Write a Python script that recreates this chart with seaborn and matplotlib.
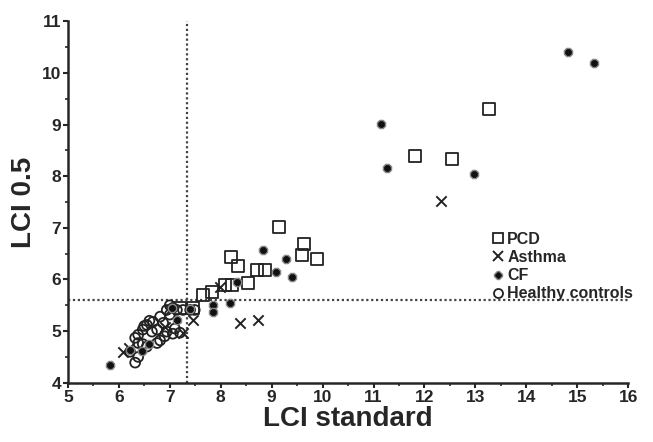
import numpy as np
import pandas as pd
import matplotlib
matplotlib.use("Agg")
import matplotlib.pyplot as plt
import seaborn as sns
from matplotlib.ticker import MultipleLocator
from matplotlib.lines import Line2D

# -----------------------------
# DATA
# -----------------------------
pcd_x = [7.20, 7.46, 7.65, 7.83, 8.08, 8.22, 8.54, 8.20, 8.34, 8.71, 8.87,
         9.15, 9.64, 9.60, 9.89, 11.82, 12.54, 13.27]
pcd_y = [5.45, 5.45, 5.70, 5.76, 5.90, 5.90, 5.93, 6.44, 6.26, 6.19, 6.19,
         7.02, 6.69, 6.48, 6.40, 8.39, 8.33, 9.30]

asthma_x = [6.08, 6.20, 6.90, 7.00, 7.26, 7.46, 7.99, 8.38, 8.73, 12.33]
asthma_y = [4.60, 4.68, 5.08, 5.41, 4.97, 5.22, 5.86, 5.16, 5.22, 7.52]

cf_x = [5.83, 6.22, 6.45, 6.60, 7.14, 7.05, 7.40, 7.85, 7.85, 8.18, 8.32,
        8.83, 9.28, 9.09, 9.40, 11.15, 11.27, 12.98, 14.82, 15.33]
cf_y = [4.35, 4.64, 4.62, 4.75, 5.22, 5.45, 5.42, 5.51, 5.37, 5.55, 5.95,
        6.57, 6.40, 6.15, 6.05, 9.01, 8.16, 8.04, 10.40, 10.19]

hc_x = [6.22, 6.32, 6.38, 6.32, 6.38, 6.47, 6.38, 6.55, 6.47, 6.65, 6.55,
        6.67, 6.75, 6.81, 6.87, 6.94, 7.00, 7.06, 7.14, 6.94, 7.06, 7.20,
        6.75, 6.81, 7.26, 7.40, 7.49, 6.60, 6.50, 7.10, 6.90, 7.00]
hc_y = [4.60, 4.39, 4.50, 4.87, 4.93, 5.03, 4.77, 4.70, 4.75, 4.99, 5.12,
        5.18, 5.03, 5.28, 5.16, 5.41, 5.32, 5.45, 5.41, 4.99, 4.95, 4.97,
        4.77, 4.82, 5.41, 5.41, 5.41, 5.20, 5.10, 5.05, 4.90, 5.50]

cut_x = 7.33
cut_y = 5.6

df = pd.concat([
    pd.DataFrame({"std": pcd_x, "half": pcd_y, "group": "PCD"}),
    pd.DataFrame({"std": asthma_x, "half": asthma_y, "group": "Asthma"}),
    pd.DataFrame({"std": cf_x, "half": cf_y, "group": "CF"}),
    pd.DataFrame({"std": hc_x, "half": hc_y, "group": "Healthy controls"}),
])

# -----------------------------
# PLOT
# -----------------------------
sns.set_style("ticks")
plt.rcParams["font.family"] = ["Liberation Sans", "DejaVu Sans"]

fig = plt.figure(figsize=(6.53, 4.42), dpi=100)
ax = fig.add_axes([0.104, 0.134, 0.858, 0.818])

ax.axvline(cut_x, color="#444444", ls=(0, (1, 1.2)), lw=1.6, zorder=1)
ax.axhline(cut_y, color="#444444", ls=(0, (1, 1.2)), lw=1.6, zorder=1)

d = df[df.group == "Healthy controls"]
sns.scatterplot(x="std", y="half", data=d, marker="o", s=50,
                facecolors="none", edgecolor="#222222", linewidth=1.3, ax=ax)
d = df[df.group == "PCD"]
sns.scatterplot(x="std", y="half", data=d, marker="s", s=75,
                facecolors="none", edgecolor="#222222", linewidth=1.3, ax=ax)
d = df[df.group == "Asthma"]
sns.scatterplot(x="std", y="half", data=d, marker="x", s=55,
                color="#222222", linewidth=1.4, ax=ax)
d = df[df.group == "CF"]
sns.scatterplot(x="std", y="half", data=d, marker="8", s=40,
                color="#111111", edgecolor="#888888", linewidth=1.0, ax=ax)

ax.set_xlim(5, 16)
ax.set_ylim(4, 11)
ax.xaxis.set_major_locator(MultipleLocator(1))
ax.xaxis.set_minor_locator(MultipleLocator(0.5))
ax.yaxis.set_major_locator(MultipleLocator(1))
ax.yaxis.set_minor_locator(MultipleLocator(0.5))
ax.tick_params(which="major", length=3.5, width=1.5, labelsize=12.5, pad=1.5)
ax.tick_params(which="minor", length=2.5, width=1.2)
for lab in ax.get_xticklabels() + ax.get_yticklabels():
    lab.set_fontweight("bold")

for s in ["left", "bottom"]:
    ax.spines[s].set_linewidth(1.8)
sns.despine(ax=ax)

ax.set_xlabel("LCI standard", fontsize=20, fontweight="bold", labelpad=1)
ax.set_ylabel("LCI 0.5", fontsize=20, fontweight="bold", labelpad=3)

handles = [
    Line2D([], [], ls="none", marker="s", mfc="none", mec="#222222", ms=6.5, mew=1.3),
    Line2D([], [], ls="none", marker="x", color="#222222", ms=6.5, mew=1.4),
    Line2D([], [], ls="none", marker="8", color="#111111", mec="#888888", ms=5.5),
    Line2D([], [], ls="none", marker="o", mfc="none", mec="#222222", ms=6.5, mew=1.3),
]
leg = ax.legend(handles, ["PCD", "Asthma", "CF", "Healthy controls"],
                loc="upper left", bbox_to_anchor=(0.74, 0.435), frameon=False,
                handletextpad=0.05, labelspacing=0.2, borderaxespad=0,
                handlelength=1.1, prop={"weight": "bold", "size": 11.5})

fig.savefig("out.png", dpi=100)
